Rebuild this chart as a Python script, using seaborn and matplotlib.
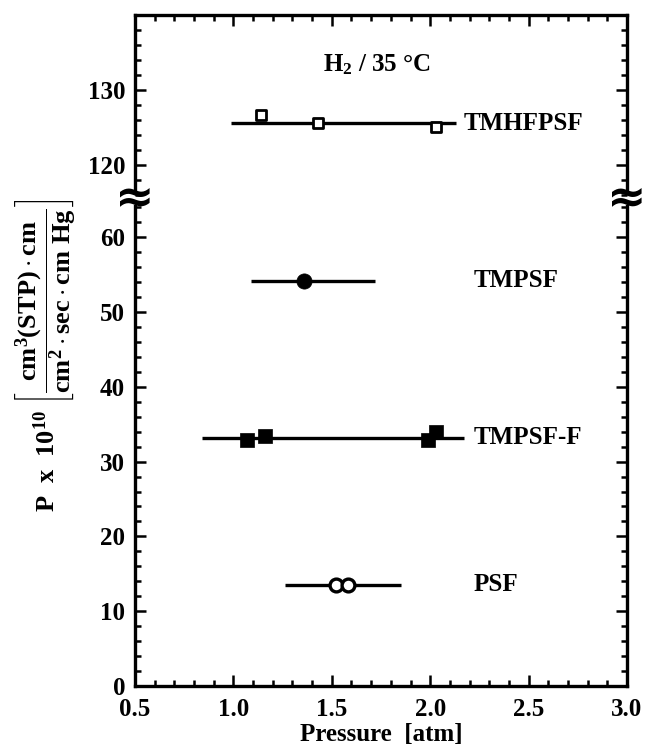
import matplotlib
matplotlib.use("Agg")
import matplotlib.pyplot as plt
import seaborn as sns
import pandas as pd
import numpy as np

# permeability of H2 vs feed pressure (35 C)
polymers = ["TMHFPSF", "TMPSF", "TMPSF-F", "PSF"]

tmhfpsf_p = [1.14, 1.43, 2.03]
tmhfpsf_perm = [126.6, 125.5, 125.0]
tmpsf_p = [1.36]
tmpsf_perm = [54.2]
tmpsff_p = [1.07, 1.16, 1.99, 2.03]
tmpsff_perm = [32.9, 33.4, 32.9, 34.0]
psf_p = [1.52, 1.58]
psf_perm = [13.5, 13.5]

# horizontal bars (pressure range) per polymer
range_lo = [0.99, 1.09, 0.84, 1.26]
range_hi = [2.13, 1.72, 2.17, 1.85]
range_level = [125.5, 54.2, 33.2, 13.5]
label_x = [2.17, 2.22, 2.22, 2.22]

x_ticks = [0.5, 1.0, 1.5, 2.0, 2.5, 3.0]
y_ticks_low = [0, 10, 20, 30, 40, 50, 60]
y_ticks_high = [120, 130]

sns.set_theme(style="ticks")
plt.rcParams["font.family"] = ["Liberation Serif", "DejaVu Sans"]
plt.rcParams["font.weight"] = "bold"
for key in ("text.color", "axes.edgecolor", "axes.labelcolor", "xtick.color", "ytick.color"):
    plt.rcParams[key] = "black"
plt.rcParams["mathtext.fontset"] = "custom"
plt.rcParams["mathtext.rm"] = "Liberation Serif:bold"
plt.rcParams["mathtext.bf"] = "Liberation Serif:bold"
plt.rcParams["mathtext.it"] = "Liberation Serif:bold:italic"
plt.rcParams["mathtext.default"] = "rm"

df = pd.concat([
    pd.DataFrame({"p": tmhfpsf_p, "perm": tmhfpsf_perm, "poly": "TMHFPSF"}),
    pd.DataFrame({"p": tmpsf_p, "perm": tmpsf_perm, "poly": "TMPSF"}),
    pd.DataFrame({"p": tmpsff_p, "perm": tmpsff_perm, "poly": "TMPSF-F"}),
    pd.DataFrame({"p": psf_p, "perm": psf_perm, "poly": "PSF"}),
], ignore_index=True)

styles = {
    "TMHFPSF": dict(marker="s", s=60, facecolor="white", lw=2.0),
    "TMPSF": dict(marker="o", s=120, facecolor="black", lw=0.5),
    "TMPSF-F": dict(marker="s", s=95, facecolor="black", lw=0.5),
    "PSF": dict(marker="o", s=85, facecolor="white", lw=2.4),
}

fig, (ax_hi, ax_lo) = plt.subplots(2, 1, sharex=True, figsize=(6.6, 7.52), dpi=100,
                                   gridspec_kw=dict(height_ratios=[24.5, 65.2], hspace=0))
fig.subplots_adjust(left=0.2045, right=0.95, bottom=0.0878, top=0.98)

for ax, (ylo, yhi) in ((ax_hi, (115.5, 140)), (ax_lo, (0, 65.2))):
    for poly, lo, hi, lvl, lx in zip(polymers, range_lo, range_hi, range_level, label_x):
        if not (ylo <= lvl <= yhi):
            continue
        ax.hlines(lvl, lo, hi, color="black", lw=2.4, zorder=2)
        st = styles[poly]
        sns.scatterplot(data=df[df["poly"] == poly], x="p", y="perm", ax=ax,
                        marker=st["marker"], s=st["s"], color=st["facecolor"],
                        edgecolor="black", linewidth=st["lw"], zorder=3, legend=False)
        ax.text(lx, lvl, poly, fontsize=18, fontweight="bold", ha="left", va="center")
    ax.set_xlabel("")
    ax.set_ylabel("")
    for sp in ax.spines.values():
        sp.set_linewidth(2.4)
        sp.set_color("black")
    ax.tick_params(which="both", direction="in", width=1.8, labelsize=18,
                   left=True, right=True, color="black", labelcolor="black")
    ax.tick_params(which="major", length=8)
    ax.tick_params(which="minor", length=4)
    ax.tick_params(axis="y", pad=7)
    ax.tick_params(axis="x", pad=9)
    ax.set_xticks(x_ticks)
    ax.set_xticks(np.arange(0.5, 3.01, 0.1), minor=True)
    ax.set_xlim(0.5, 3.0)

ax_hi.set_ylim(115.5, 140)
ax_hi.set_yticks(y_ticks_high)
ax_hi.set_yticks(np.arange(116, 141, 2), minor=True)
ax_hi.spines["bottom"].set_visible(False)
ax_hi.tick_params(which="both", bottom=False, top=True, labelbottom=False)
ax_hi.spines["left"].set_bounds(116.6, 140)
ax_hi.spines["right"].set_bounds(116.6, 140)

ax_lo.set_ylim(0, 65.2)
ax_lo.set_yticks(y_ticks_low)
ax_lo.set_yticks(np.arange(0, 65, 2), minor=True)
ax_lo.spines["top"].set_visible(False)
ax_lo.tick_params(which="both", top=False, bottom=True)
ax_lo.spines["left"].set_bounds(0, 64.2)
ax_lo.spines["right"].set_bounds(0, 64.2)
ax_lo.set_xticklabels(["0.5", "1.0", "1.5", "2.0", "2.5", "3.0"])
for lab in ax_lo.get_xticklabels() + ax_lo.get_yticklabels() + ax_hi.get_yticklabels():
    lab.set_fontweight("bold")

# axis break marks on both spines
for xf in (0.0, 1.0):
    ax_lo.text(xf, 1.0, "\u2248", transform=ax_lo.transAxes, fontsize=34,
               fontweight="bold", ha="center", va="center", family="DejaVu Sans",
               clip_on=False)

ax_hi.text(1.73, 133.4, "H$_2$ / 35 \u00b0C", fontsize=18, fontweight="bold",
           ha="center", va="center")

ax_lo.set_xlabel("Pressure  [atm]", fontsize=18, fontweight="bold", labelpad=1)

fig.text(0.07, 0.528,
         r"P  x  10$^{10}$ $\left[\dfrac{\mathrm{cm^{3}(STP)\cdot cm}}{\mathrm{cm^{2}\cdot sec\cdot cm\ Hg}}\right]$",
         rotation=90, fontsize=19, fontweight="bold", ha="center", va="center")

plt.savefig("out.png", dpi=100)
